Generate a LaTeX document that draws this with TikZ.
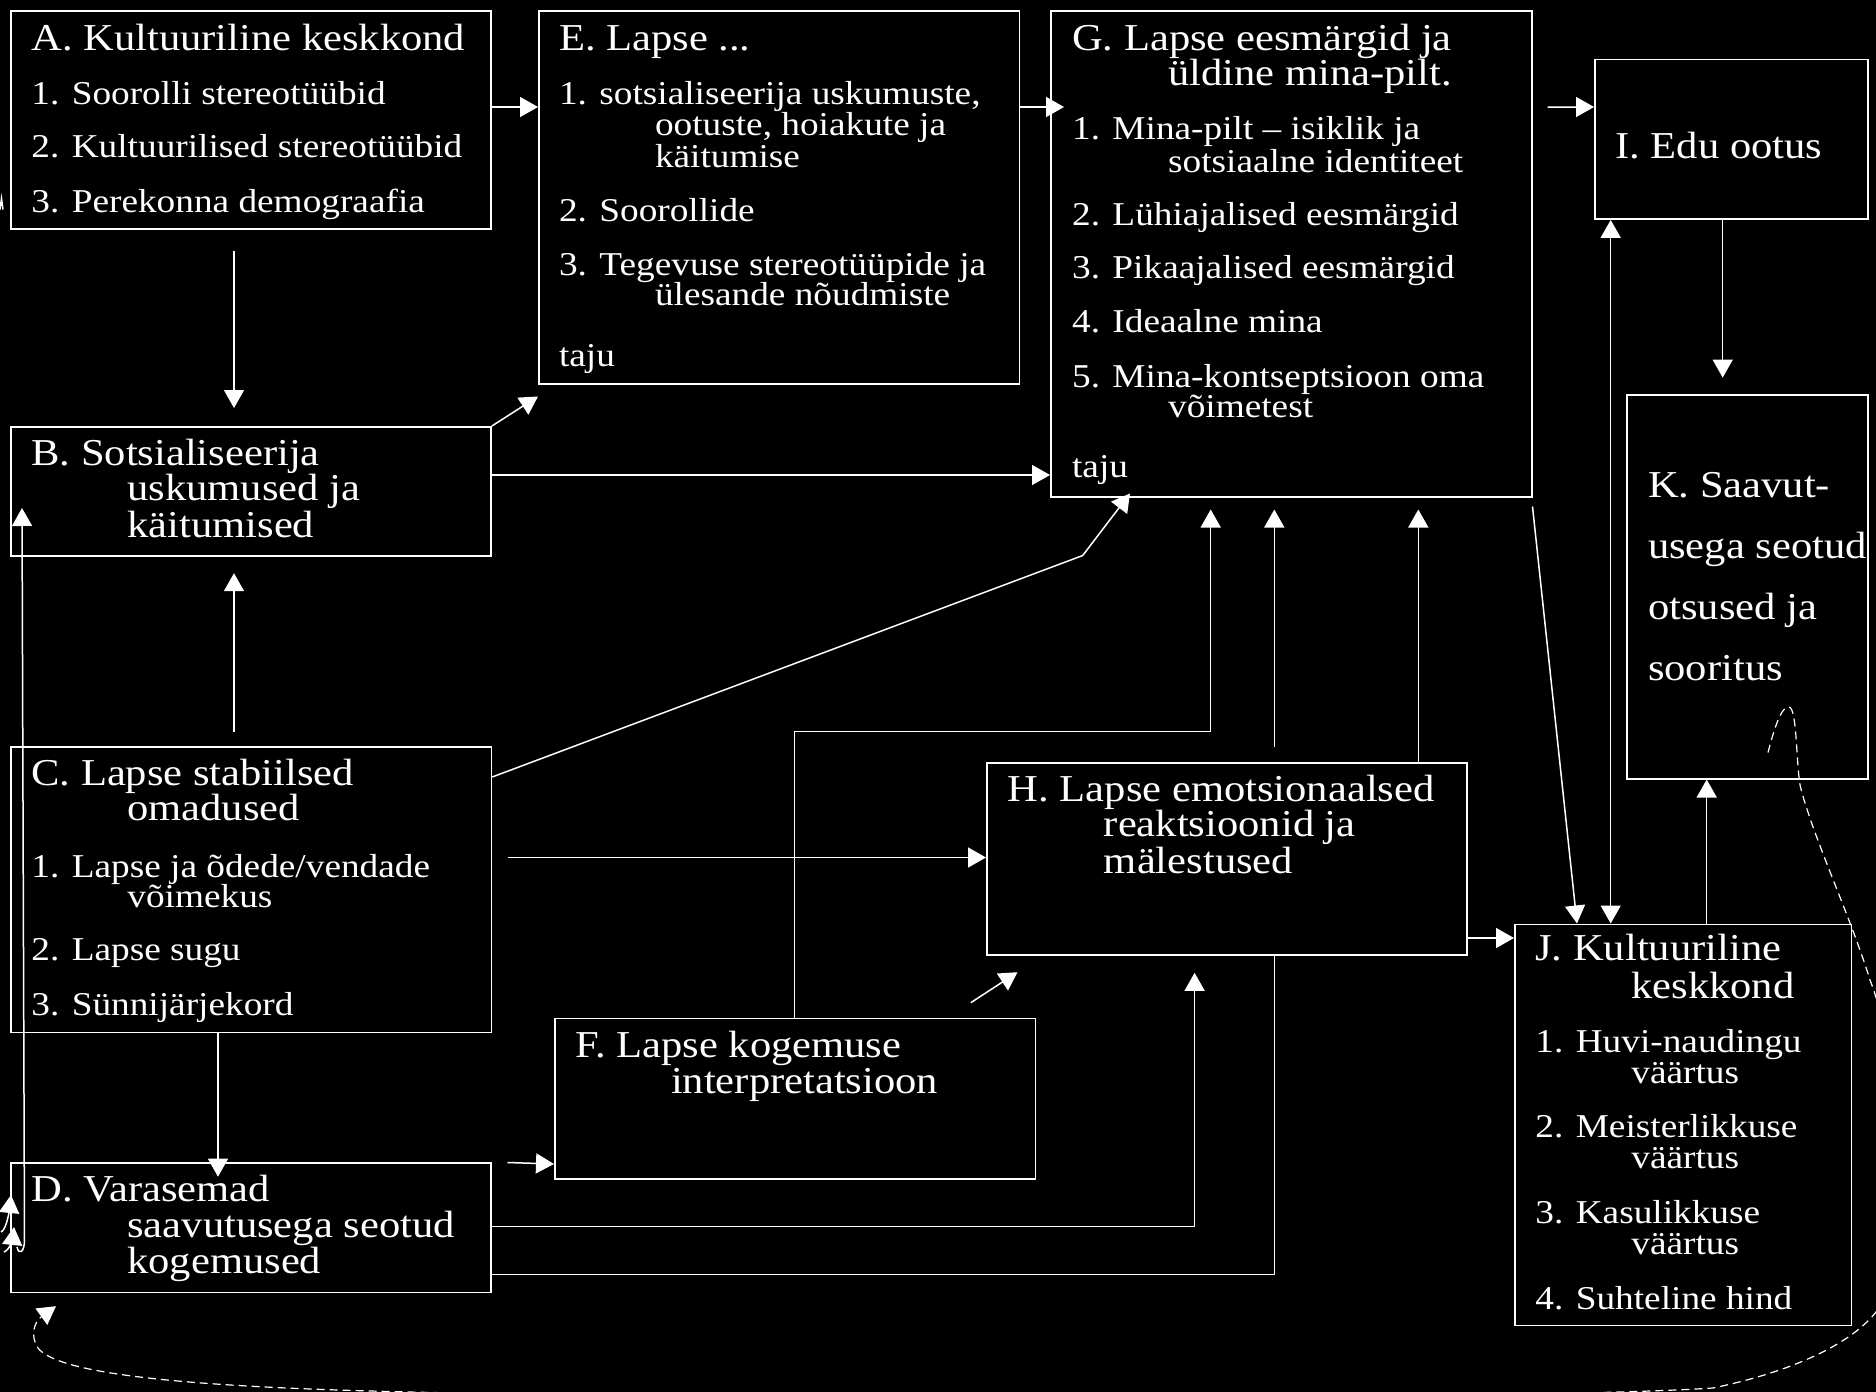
\documentclass[tikz,border=0pt]{standalone}
\usepackage{fontspec}
\setmainfont{Liberation Serif}[FakeStretch=1.12]
\usepackage{tikz}
\usetikzlibrary{arrows.meta, calc}

\newcommand{\boxitem}{\fontsize{16.65}{15.5}\selectfont\lineskiplimit=-50pt\relax}
\newcommand{\boxtitle}{\fontsize{19}{18}\selectfont}
\newcommand{\firstrow}{\boxtitle\rule{0pt}{15pt}}
\newcommand{\wrapind}{\hspace*{48pt}}

\begin{document}
\begin{tikzpicture}[x=0.5pt, y=-0.5pt,
    >={Triangle[length=9pt, width=10pt]},
    frame/.style={draw=white, line width=0.75pt, inner sep=0pt, anchor=north west},
    txt/.style={text=white, font=\boxitem, align=left, inner sep=0pt, anchor=north west},
    link/.style={draw=white, line width=0.75pt},
    feedback/.style={draw=white, line width=0.6pt, dash pattern=on 4pt off 2.5pt, ->}]

    % Background
    \fill[black] (0,0) rectangle (1876,1392);
    \useasboundingbox (0,0) rectangle (1876,1392);

    % Boxes: name / left / top / width / height
    \foreach \n/\x/\y/\w/\h in {A/10/10/480/218, B/10/426/480.4/129, C/10/746/480.7/285.7,
        D/10/1162.3/480.4/129.4, E/538/10/480.6/373, F/554/1017.7/480.6/160.6,
        G/1050/10/481/486, H/986/762/480.4/192.3, I/1594/58.7/273/159.7,
        J/1514/923.5/336.7/401, K/1626/394/241/384} {
        \node[frame, minimum width=\w*0.5pt, minimum height=\h*0.5pt] (\n) at (\x,\y) {};
    }

    % Box texts
    \node[txt] (At) at (31,20) {\firstrow A. Kultuuriline keskkond\\[11.5pt]
        1. Soorolli stereotüübid\\[11pt]
        2. Kultuurilised stereotüübid\\[12pt]
        3. Perekonna demograafia};
    \node[txt] (Bt) at (31,435) {\firstrow B. Sotsialiseerija\\[2pt]
        \boxtitle\wrapind uskumused ja\\[3pt]
        \boxtitle\wrapind käitumised};
    \node[txt] (Ct) at (31,755) {\firstrow C. Lapse stabiilsed\\[2pt]
        \boxtitle\wrapind omadused\\[12.85pt]
        1. Lapse ja õdede/vendade\\[-0.5pt]
        \wrapind võimekus\\[11.15pt]
        2. Lapse sugu\\[12pt]
        3. Sünnijärjekord};
    \node[txt] (Dt) at (31,1170.7) {\firstrow D. Varasemad\\[2.5pt]
        \boxtitle\wrapind saavutusega seotud\\[2.5pt]
        \boxtitle\wrapind kogemused};
    \node[txt] (Et) at (558.6,20) {\firstrow E. Lapse ...\\[11.4pt]
        1. sotsialiseerija uskumuste,\\[0.3pt]
        \wrapind ootuste, hoiakute ja\\[0.5pt]
        \wrapind käitumise\\[11.4pt]
        2. Soorollide\\[11.2pt]
        3. Tegevuse stereotüüpide ja\\[-0.2pt]
        \wrapind ülesande nõudmiste\\[14.7pt]
        taju};
    \node[txt] (Ft) at (574.6,1026.7) {\firstrow F. Lapse kogemuse\\[2.5pt]
        \boxtitle\wrapind interpretatsioon};
    \node[txt] (Gt) at (1071.7,20) {\firstrow G. Lapse eesmärgid ja\\[2pt]
        \boxtitle\wrapind üldine mina-pilt.\\[11.5pt]
        1. Mina-pilt – isiklik ja\\[1pt]
        \wrapind sotsiaalne identiteet\\[11pt]
        2. Lühiajalised eesmärgid\\[11pt]
        3. Pikaajalised eesmärgid\\[11.5pt]
        4. Ideaalne mina\\[12pt]
        5. Mina-kontseptsioon oma\\[-0.5pt]
        \wrapind võimetest\\[14.5pt]
        taju};
    \node[txt] (Ht) at (1007.5,771.4) {\firstrow H. Lapse emotsionaalsed\\[2pt]
        \boxtitle\wrapind reaktsioonid ja\\[2.75pt]
        \boxtitle\wrapind mälestused};
    \node[txt] (It) at (1615,128.3) {\firstrow I. Edu ootus};
    \node[txt] (Jt) at (1535,930) {\firstrow J. Kultuuriline\\[3.4pt]
        \boxtitle\wrapind keskkond\\[11.6pt]
        1. Huvi-naudingu\\
        \wrapind väärtus\\[11.75pt]
        2. Meisterlikkuse\\
        \wrapind väärtus\\[11.8pt]
        3. Kasulikkuse\\
        \wrapind väärtus\\[11.8pt]
        4. Suhteline hind};
    \node[txt] (Kt) at (1647.7,467) {\firstrow K. Saavut-\\[15pt]
        \boxtitle usega seotud\\[15pt]
        \boxtitle otsused ja\\[15pt]
        \boxtitle sooritus};

    % Top row
    \draw[link, ->] ($(A.north east)+(0,97)$) -- ($(E.north west)+(0,97)$);
    \draw[link, ->] ($(E.north east)+(0,97)$) -- ($(G.north west)+(14,97)$);
    \draw[link, ->] ($(G.north east)+(15,97)$) -- ($(I.north west)+(0,48.3)$);

    % Right column
    \draw[link, ->] ($(I.south west)+(128.7,0)$) -- ($(K.north west)+(96.7,-16.4)$);
    \draw[link, <->] ($(J.north west)+(96.7,0)$) -- ($(I.south west)+(16.7,0)$);
    \draw[link, ->] ($(G.south east)+(0,9)$) -- ($(J.north west)+(63,0)$);
    \draw[link, ->] ($(J.north west)+(192.7,0)$) -- ($(K.south west)+(80.7,0)$);
    \draw[link, ->] ($(H.north east)+(0,176)$) -- ($(J.north west)+(0,14.5)$);

    % Left column
    \draw[link, ->] ($(A.south west)+(224,21)$) -- ($(B.north west)+(224,-18)$);
    \draw[link, ->] ($(C.north west)+(224,-14)$) -- ($(B.south west)+(224,16.7)$);
    \draw[link, ->] ($(C.south west)+(208,0)$) -- ($(D.north west)+(208,14.4)$);
    \draw[link, ->] (B.north east) -- ($(E.south west)+(0,12)$);
    \draw[link, ->] ($(B.north east)+(0,49)$) -- ($(G.north west)+(0,465)$);

    % From C
    \draw[link, ->] ($(C.north east)+(0,31)$) -- ($(G.south west)+(32.7,58)$) -- ($(G.south west)+(80,-4)$);
    \draw[link, ->] ($(C.north east)+(15.3,111.5)$) -- ($(H.north west)+(0,95.5)$);

    % From D and F
    \draw[link, ->] ($(D.north east)+(15.6,0.2)$) -- ($(F.south west)+(0,-15.8)$);
    \draw[link, ->] ($(F.north west)+(240.3,0)$) |- ($(G.south west)+(160.7,234)$) -- ($(G.south west)+(160.7,12)$);
    \draw[link, ->] ($(F.north east)+(-65.3,-15)$) -- ($(H.south west)+(31.5,16.4)$);
    \draw[link, ->] ($(D.north east)+(0,64.2)$) -| ($(H.south west)+(208.6,17)$);
    \draw[link] ($(D.north east)+(0,112)$) -| ($(H.south west)+(288.3,0)$);

    % H up to G
    \draw[link, ->] ($(H.north west)+(288.3,-15.3)$) -- ($(G.south west)+(224.3,12)$);
    \draw[link, ->] ($(H.north west)+(432.3,0)$) -- ($(G.south west)+(368.3,12)$);

    % Left edge: D up into B
    \draw[link, ->] ($(D.north west)+(7,84.7)$) .. controls +(2,9) and +(0,12) .. ($(D.north west)+(14.5,77.7)$) -- ($(B.north west)+(12,82)$);
    \draw[link, ->] ($(D.north west)+(-9,69.7)$) .. controls +(6,-2) and +(-1,10) .. ($(D.north west)+(1,32.7)$);
    \draw[link, ->] ($(D.north west)+(-6,89.7)$) .. controls +(6,-2) and +(-1,10) .. ($(D.north west)+(4,64.7)$);
    \draw[link] ($(A.south west)+(-10,-20)$) -- ($(A.south west)+(-8.5,-31)$) -- ($(A.south west)+(-7,-20)$);

    % Feedback loop from K back to D
    \draw[feedback] ($(K.south west)+(142,-27)$)
        .. controls (1775,725) and (1782,706) .. (1789,707)
        .. controls (1797,708) and (1796,760) .. (1800,785)
        .. controls (1812,835) and (1850,915) .. (1870,980)
        .. controls (1905,1070) and (1910,1260) .. (1876,1312)
        .. controls (1850,1345) and (1790,1372) .. (1713,1388)
        .. controls (1500,1402) and (600,1398) .. (371,1391)
        .. controls (150,1385) and (55,1370) .. (38,1348)
        .. controls (30,1336) and (34,1322) .. ($(D.south west)+(46,13)$);
\end{tikzpicture}
\end{document}
